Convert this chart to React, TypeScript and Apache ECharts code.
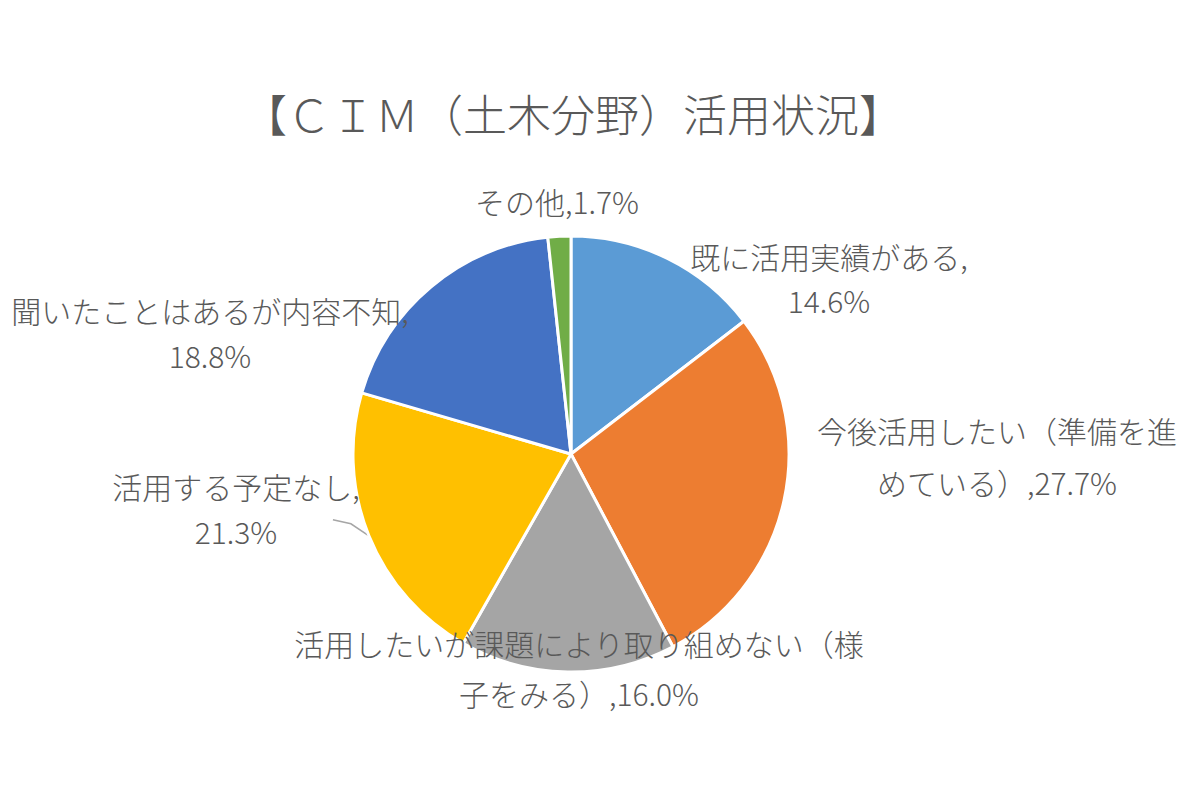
import React, { useEffect, useRef } from 'react';
import * as echarts from 'echarts';
import type { EChartsOption } from 'echarts';

const titleText = '【ＣＩＭ（土木分野）活用状況】';

const categories = [
  '既に活用実績がある',
  '今後活用したい（準備を進めている）',
  '活用したいが課題により取り組めない（様子をみる）',
  '活用する予定なし',
  '聞いたことはあるが内容不知',
  'その他',
];
const shares = [14.6, 27.7, 16.0, 21.3, 18.8, 1.7];

// where each label wraps (character index into "name,value%"); -1 = one line
const labelBreaks = [10, 12, 19, 9, 14, -1];
// label centres in pixels and line gaps, per slice
const labelSpots: [number, number][] = [
  [829, 278],
  [997, 456],
  [579, 668],
  [236, 508],
  [210, 332],
  [557, 201],
];
const labelGaps = [44, 52, 50, 45, 45, 45];

const colors = ['#5B9BD5', '#ED7D31', '#A5A5A5', '#FFC000', '#4472C4', '#70AD47'];

const FONT = "'Noto Sans CJK JP', 'Noto Sans', sans-serif";

const CimPie: React.FC = () => {
  const chartRef = useRef<HTMLDivElement>(null);

  useEffect(() => {
    if (!chartRef.current) return;
    document.body.style.margin = '0';
    const chart = echarts.init(chartRef.current, undefined, { renderer: 'svg' });

    const option: EChartsOption = {
      animation: false,
      backgroundColor: '#ffffff',
      color: colors,
      title: {
        text: titleText,
        left: 238,
        top: 86,
        textStyle: {
          fontFamily: FONT,
          fontSize: 44,
          fontWeight: 300,
          color: '#595959',
        },
      },
      series: [
        {
          type: 'pie',
          center: [571, 454],
          radius: 218,
          startAngle: 90,
          clockwise: true,
          itemStyle: { borderColor: '#ffffff', borderWidth: 3 },
          label: {
            show: true,
            position: 'outside',
            fontFamily: FONT,
            fontSize: 30,
            fontWeight: 300,
            lineHeight: 46,
            color: '#595959',
            align: 'center',
            overflow: 'none',
            formatter: (p: any) => {
              const s = `${p.name},${Number(p.value).toFixed(1)}%`;
              const b = labelBreaks[p.dataIndex];
              return b < 0 ? s : s.slice(0, b) + '\n' + s.slice(b);
            },
          },
          labelLine: { show: false },
          labelLayout: (p: any) => {
            const [x, y] = labelSpots[p.dataIndex];
            const out: any = { x, y, align: 'center', verticalAlign: 'middle' };
            if (p.dataIndex === 3 && p.labelLinePoints) {
              const start = p.labelLinePoints[0];
              out.labelLinePoints = [start, [start[0] - 18, start[1] - 12], [start[0] - 36, start[1] - 16]];
            }
            return out;
          },
          data: categories.map((name, i) => ({
            name,
            value: shares[i],
            label: { lineHeight: labelGaps[i] },
            labelLine:
              i === 3
                ? { show: true, length: 10, length2: 10, lineStyle: { color: '#a6a6a6', width: 1.5 } }
                : { show: false },
          })),
        },
      ],
    };

    chart.setOption(option);
    return () => {
      chart.dispose();
    };
  }, []);

  return <div ref={chartRef} style={{ width: '1200px', height: '798px' }} />;
};

export default function App() {
  return <CimPie />;
}
